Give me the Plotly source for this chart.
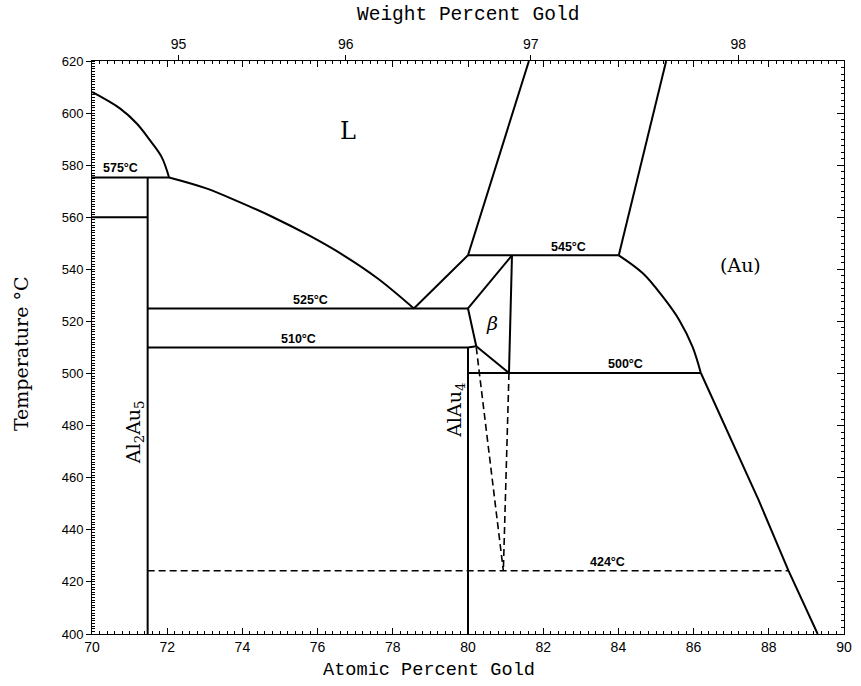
import plotly.graph_objects as go

# ---------------- data (atomic % Au, temperature degC) ----------------
liq_left_x = [70.0, 70.75, 71.19, 71.54, 71.85, 72.05]
liq_left_T = [608.1, 601.7, 596.0, 589.6, 583.2, 575.3]

liq_mid_x = [72.05, 73.04, 73.91, 74.79, 75.76, 76.7, 77.6, 78.56]
liq_mid_T = [575.3, 571.1, 565.9, 560.2, 553.1, 545.3, 536.5, 525.0]

liq_right_x = [78.56, 80.0, 81.62]
liq_right_T = [525.0, 545.4, 620.0]

liq_au_x = [84.01, 85.27]
liq_au_T = [545.4, 620.0]

sol_au_curve_x = [84.01, 84.65, 85.18, 85.62, 85.97, 86.19]
sol_au_curve_T = [545.4, 538.5, 529.5, 520.5, 510.3, 500.3]
sol_au_line_x = [86.19, 87.73, 88.52, 89.30]
sol_au_line_T = [500.3, 451.4, 424.4, 400.0]

iso575_x = [70.0, 72.05]; iso575_T = [575.3, 575.3]
iso560_x = [70.0, 71.48]; iso560_T = [560.0, 560.0]
al2au5_x = [71.48, 71.48]; al2au5_T = [400.0, 575.3]
iso525_x = [71.48, 80.0]; iso525_T = [525.0, 525.0]
iso510_x = [71.48, 80.0, 80.22]; iso510_T = [510.0, 510.0, 510.5]
alau4_x = [80.0, 80.0]; alau4_T = [400.0, 510.0]
iso545_x = [80.0, 84.01]; iso545_T = [545.4, 545.4]
beta_top_x = [80.0, 81.17]; beta_top_T = [525.0, 545.4]
beta_left_x = [80.0, 80.22]; beta_left_T = [525.0, 510.5]
beta_low_x = [80.22, 81.09]; beta_low_T = [510.5, 500.2]
beta_right_x = [81.17, 81.09]; beta_right_T = [545.4, 500.2]
iso500_x = [80.0, 86.19]; iso500_T = [500.2, 500.2]

dash_left_x = [80.22, 80.94]; dash_left_T = [510.0, 424.3]
dash_right_x = [81.09, 80.94]; dash_right_T = [500.2, 424.3]
iso424_x = [71.48, 88.52]; iso424_T = [424.3, 424.3]

# top axis: weight-percent tick labels and their atomic-percent positions
wt_ticks = ["95", "96", "97", "98"]
wt_tick_at = [72.30, 76.75, 81.67, 87.19]
x_ticks = list(range(70, 91, 2))
y_ticks = list(range(400, 621, 20))

curved = [(liq_left_x, liq_left_T), (liq_mid_x, liq_mid_T), (sol_au_curve_x, sol_au_curve_T)]
solid = [
    (liq_right_x, liq_right_T), (liq_au_x, liq_au_T), (sol_au_line_x, sol_au_line_T),
    (iso575_x, iso575_T), (iso560_x, iso560_T), (al2au5_x, al2au5_T), (iso525_x, iso525_T),
    (iso510_x, iso510_T), (alau4_x, alau4_T), (iso545_x, iso545_T),
    (beta_top_x, beta_top_T), (beta_left_x, beta_left_T), (beta_low_x, beta_low_T),
    (beta_right_x, beta_right_T), (iso500_x, iso500_T),
]
dashed = [(dash_left_x, dash_left_T), (dash_right_x, dash_right_T), (iso424_x, iso424_T)]

fig = go.Figure()
for xs, ys in curved:
    fig.add_trace(go.Scatter(x=xs, y=ys, mode="lines",
                             line=dict(color="black", width=2, shape="spline", smoothing=1.0),
                             showlegend=False, hoverinfo="skip"))
for xs, ys in solid:
    fig.add_trace(go.Scatter(x=xs, y=ys, mode="lines", line=dict(color="black", width=2),
                             showlegend=False, hoverinfo="skip"))
for xs, ys in dashed:
    fig.add_trace(go.Scatter(x=xs, y=ys, mode="lines",
                             line=dict(color="black", width=1.6, dash="7px,4px"),
                             showlegend=False, hoverinfo="skip"))
# invisible trace to activate secondary axes
fig.add_trace(go.Scatter(x=[70, 90], y=[400, 620], xaxis="x2", yaxis="y2", mode="lines",
                         line=dict(width=0), showlegend=False, hoverinfo="skip"))

sans = "Liberation Sans"
narrow = "Liberation Sans Narrow, Liberation Sans"
serif = "DejaVu Serif"
mono = "Liberation Mono"

fig.update_layout(
    width=861, height=686,
    margin=dict(l=92, r=9, t=61, b=52),
    paper_bgcolor="white", plot_bgcolor="white",
    xaxis=dict(range=[70, 90], tickvals=x_ticks, ticks="inside", ticklen=6,
               tickcolor="black", showline=True, linecolor="black", linewidth=1,
               showgrid=False, zeroline=False, mirror="ticks",
               tickfont=dict(family=narrow, size=14, color="black"),
               minor=dict(dtick=0.2, ticks="inside", ticklen=3, tickcolor="black", showgrid=False)),
    yaxis=dict(range=[400, 620], tickvals=y_ticks, ticks="outside", ticklen=5,
               tickcolor="black", showline=True, linecolor="black", linewidth=1,
               showgrid=False, zeroline=False,
               tickfont=dict(family=sans, size=13, color="black"),
               minor=dict(dtick=1, ticks="inside", ticklen=3, tickcolor="black", showgrid=False)),
    xaxis2=dict(range=[70, 90], overlaying="x", side="top", tickvals=wt_tick_at,
                ticktext=wt_ticks, ticks="outside", ticklen=5,
                tickcolor="black", showgrid=False, zeroline=False, showline=False,
                tickfont=dict(family=narrow, size=14, color="black")),
    yaxis2=dict(range=[400, 620], overlaying="y", side="right", tickvals=y_ticks,
                showticklabels=False, ticks="inside", ticklen=7, tickcolor="black",
                showline=True, linecolor="black", linewidth=1, showgrid=False, zeroline=False,
                minor=dict(dtick=2.5, ticks="inside", ticklen=3, tickcolor="black", showgrid=False)),
)

ann = []
def lab(x, y, t, size=12, fam=sans, angle=0, ref="data"):
    d = dict(x=x, y=y, text=t, showarrow=False, textangle=angle,
             xanchor="center", yanchor="middle",
             font=dict(family=fam, size=size, color="black"))
    if ref == "paper":
        d.update(xref="paper", yref="paper")
    ann.append(d)

lab(70.75, 579.0, "<b>575°C</b>", 12.5)
lab(75.8, 528.3, "<b>525°C</b>", 12.5)
lab(75.5, 513.3, "<b>510°C</b>", 12.5)
lab(82.67, 548.7, "<b>545°C</b>", 12.5)
lab(84.2, 503.6, "<b>500°C</b>", 12.5)
lab(83.7, 427.6, "<b>424°C</b>", 12.5)
lab(76.8, 593.0, "L", 24, serif)
lab(87.25, 541.6, "(Au)", 19, serif)
lab(80.65, 519.4, "<i>β</i>", 19, serif)
lab(71.15, 477.6, "Al<sub>2</sub>Au<sub>5</sub>", 19, serif, -90)
lab(79.65, 486.0, "AlAu<sub>4</sub>", 19, serif, -90)
lab(0.5, 1.0797, "Weight Percent Gold", 19.5, mono, 0, "paper")
lab(0.448, -0.064, "Atomic Percent Gold", 18.6, mono, 0, "paper")
lab(-0.0946, 0.49, "Temperature °C", 19, serif, -90, "paper")
fig.update_layout(annotations=ann)

fig.write_html("out.html")
